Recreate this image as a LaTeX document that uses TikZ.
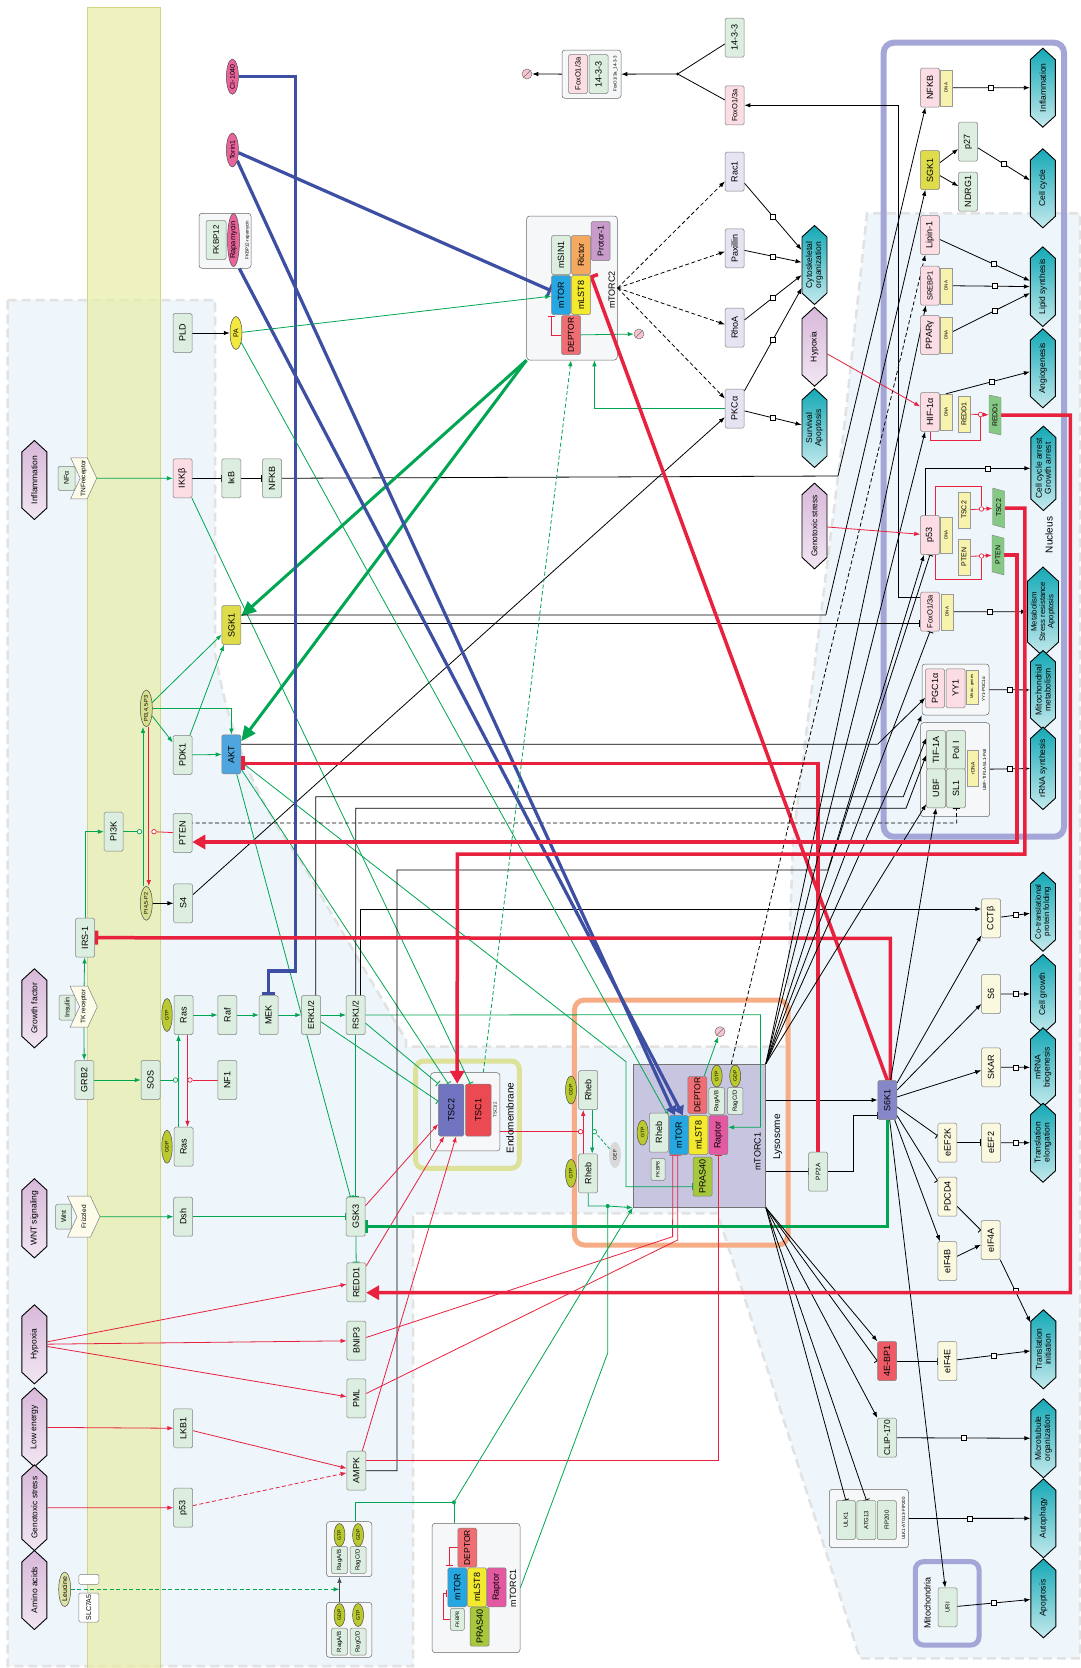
\documentclass[tikz,border=0pt]{standalone}
\usepackage{fontspec}
\setmainfont{Liberation Sans}
\usetikzlibrary{arrows.meta,shapes.geometric,shapes.symbols,calc}
\pgfdeclarelayer{bgl}\pgfdeclarelayer{frl}\pgfdeclarelayer{edl}
\pgfsetlayers{bgl,frl,edl,main}
\definecolor{bgblue}{HTML}{EEF5FB}
\definecolor{bgdash}{HTML}{E2E2E2}
\definecolor{memb}{HTML}{E8EDA6}
\definecolor{membl}{HTML}{D2D682}
\definecolor{gfill}{HTML}{DCEEDF}
\definecolor{pfill}{HTML}{FBDDE3}
\definecolor{lfill}{HTML}{E6E4F3}
\definecolor{cfill}{HTML}{FAF8DF}
\definecolor{tealc}{HTML}{14A9B6}
\definecolor{hexp}{HTML}{D8B8DA}
\definecolor{rline}{HTML}{E8213F}
\definecolor{gline}{HTML}{00A651}
\definecolor{bline}{HTML}{3D4FA3}
\definecolor{nucb}{HTML}{A3A6D6}
\definecolor{lysb}{HTML}{F6AC84}
\definecolor{endob}{HTML}{DCE29A}
\definecolor{mtc1}{HTML}{C8C5E1}
\definecolor{mtorc}{HTML}{27A7E1}
\definecolor{mlstc}{HTML}{F3E92E}
\definecolor{raptc}{HTML}{E35AA3}
\definecolor{deptc}{HTML}{EE6E73}
\definecolor{rictc}{HTML}{F5A85F}
\definecolor{protc}{HTML}{C89BCB}
\definecolor{prasc}{HTML}{A7C83C}
\definecolor{gtpc}{HTML}{B9C92E}
\definecolor{pinkell}{HTML}{E8649B}
\definecolor{tsc2c}{HTML}{7074C0}
\definecolor{tsc1c}{HTML}{EC4A52}
\definecolor{s6kc}{HTML}{8587C8}
\definecolor{ebpc}{HTML}{EE5B66}
\definecolor{aktc}{HTML}{4FA6DF}
\definecolor{sgkc}{HTML}{DEDC4A}
\definecolor{dnac}{HTML}{F8F3AC}
\definecolor{prodg}{HTML}{86C985}
\definecolor{recf}{HTML}{FDFBEA}
\definecolor{cpxf}{HTML}{F6F7F8}
\definecolor{pipc}{HTML}{D8DF8E}
\definecolor{leuc}{HTML}{DDE3A6}
\definecolor{pac}{HTML}{F3E83E}
\definecolor{degc}{HTML}{F6C5CF}
\tikzset{
  bx/.style={draw=black!50,line width=0.5pt,rounded corners=1.5pt,rotate=90,minimum width=39pt,minimum height=19pt,inner sep=0.5pt,font=\fontsize{9}{10}\selectfont},
  gb/.style={bx,fill=gfill},
  pb/.style={bx,fill=pfill},
  lb/.style={bx,fill=lfill},
  cb/.style={bx,fill=cfill},
  dnab/.style={draw=black!40,line width=0.4pt,rotate=90,fill=dnac,minimum width=36pt,minimum height=11.5pt,inner sep=0pt,font=\fontsize{4.5}{5}\selectfont},
  prod/.style={trapezium,trapezium left angle=70,trapezium right angle=110,trapezium stretches=true,draw=black!50,line width=0.4pt,fill=prodg,rotate=90,minimum width=40pt,minimum height=12pt,inner sep=0pt,font=\fontsize{7}{8}\selectfont},
  ell/.style={ellipse,draw=black!70,line width=0.5pt,rotate=90,minimum width=34pt,minimum height=12pt,inner sep=0pt,font=\fontsize{7}{8}\selectfont},
  gtpe/.style={ell,fill=gtpc,minimum width=24pt,minimum height=11pt,font=\fontsize{5}{6}\selectfont},
  hexa/.style={signal,signal to=east and west,signal pointer angle=95,draw=black,line width=0.9pt,rotate=90,minimum width=79pt,minimum height=25pt,inner sep=0.5pt,align=center,font=\fontsize{8.5}{9}\selectfont},
  hext/.style={hexa,top color=tealc,bottom color=tealc!25},
  hexq/.style={hexa,top color=hexp,bottom color=hexp!35},
  recp/.style={signal,signal to=south,signal from=north,signal pointer angle=130,draw=black!50,line width=0.5pt,fill=recf,rotate=90,minimum width=41pt,minimum height=24pt,inner sep=0pt,font=\fontsize{6.5}{7}\selectfont},
  cpx/.style={draw=black!60,line width=0.5pt,rounded corners=3pt,fill=cpxf},
  lab/.style={rotate=90,inner sep=0pt,font=\fontsize{9}{10}\selectfont},
  tinyl/.style={rotate=90,inner sep=0pt,font=\fontsize{4.5}{5}\selectfont},
  mk/.style={rectangle,draw=black,fill=white,line width=0.6pt,minimum size=5pt,inner sep=0pt},
  gcirc/.style={circle,draw=gline,fill=white,line width=0.7pt,minimum size=4.5pt,inner sep=0pt},
  rcirc/.style={circle,draw=rline,fill=white,line width=0.7pt,minimum size=4.5pt,inner sep=0pt},
  degr/.style={circle,draw=black!55,fill=degc,line width=0.5pt,minimum size=10pt,inner sep=0pt,path picture={\draw[black!55,line width=0.5pt] (path picture bounding box.south west) -- (path picture bounding box.north east);}},
  blk/.style={draw=black,line width=0.8pt},
  gl/.style={draw=gline,line width=0.8pt},
  rl/.style={draw=rline,line width=0.8pt},
  ar/.style={-{Latex[length=6pt,width=4.5pt]}},
  inh/.style={-{Bar[width=7pt,line width=0.9pt]}},
  dsh/.style={dash pattern=on 4pt off 2.5pt},
  bigr/.style={draw=rline,line width=3.5pt,-{Triangle[length=13pt,width=14pt]}},
  bigrI/.style={draw=rline,line width=3.5pt,-{Bar[width=14pt,line width=3.5pt]}},
  bigg/.style={draw=gline,line width=3pt,-{Triangle[length=15pt,width=13pt]}},
  biggI/.style={draw=gline,line width=3pt,-{Bar[width=13pt,line width=3pt]}},
  bigbA/.style={draw=bline,line width=3.2pt,-{Triangle[length=9pt,width=11pt]}},
  bigbI/.style={draw=bline,line width=3.2pt,-{Bar[width=13pt,line width=3pt]}},
}
\begin{document}
\begin{tikzpicture}[x=1pt,y=-1pt]
\useasboundingbox (0,0) rectangle (1080,1668);
% ---------------- background ----------------
\begin{pgfonlayer}{bgl}
\fill[white] (0,0) rectangle (1080,1668);
\path[fill=bgblue,draw=bgdash,line width=2.5pt,dash pattern=on 9pt off 5pt]
  (7.6,300) -- (215,300) -- (215,653) .. controls (228,730) and (255,800) .. (300,860)
  -- (406,1040) -- (406,1046.7) -- (786,1046.7) -- (793,840) -- (845,420) -- (867,213.3)
  -- (1080,213.3) -- (1080,1658.3) -- (860,1658.3) -- (717.5,1213.3) -- (413,1213.3)
  -- (413,1666) -- (7.6,1666) -- cycle;
\fill[memb,opacity=0.7] (87.5,7.3) rectangle (160.5,1668);
\draw[membl,line width=0.5pt] (87.5,7.3) -- (87.5,1668) (160.5,7.3) -- (160.5,1668) (87.5,7.3) -- (160.5,7.3);
\draw[nucb,line width=6pt,rounded corners=10pt] (883.7,42.7) rectangle (1064,836.7);
\draw[lysb,line width=5pt,rounded corners=10pt] (574.4,1000) rectangle (788,1245);
\draw[endob,line width=5pt,rounded corners=8pt] (415.7,1061) rectangle (519.3,1168.3);
\draw[nucb,line width=5pt,rounded corners=8pt] (915.3,1561.7) rectangle (979,1645);
\end{pgfonlayer}
% ---------------- complex frames ----------------
\begin{pgfonlayer}{frl}
\node[cpx,minimum width=52pt,minimum height=55pt] (rapacx) at (225,240.8) {};
\node[cpx,minimum width=90.6pt,minimum height=144pt] (mtorc2) at (572,288) {};
\node[cpx,minimum width=59pt,minimum height=48.3pt] (foxocx) at (591.5,74.2) {};
\node[cpx,minimum width=67pt,minimum height=51pt] (pgccx) at (955.5,689.5) {};
\node[cpx,minimum width=69.2pt,minimum height=94pt] (ubfcx) at (955.1,769.7) {};
\node[draw=black!55,fill=mtc1,line width=0.6pt,minimum width=132.5pt,minimum height=143.3pt] (mtorc1) at (699.3,1135.7) {};
\node[cpx,minimum width=69.3pt,minimum height=78.3pt] (tsccx) at (465.3,1111.8) {};
\node[cpx,minimum width=79.2pt,minimum height=58.4pt] (ulkcx) at (868.9,1518.5) {};
\node[cpx,minimum width=45.5pt,minimum height=55pt] (ragact) at (349.2,1549.2) {};
\node[cpx,minimum width=45.5pt,minimum height=55pt] (raginact) at (349.2,1629.8) {};
\node[cpx,minimum width=87.8pt,minimum height=129.4pt] (mtorc1s) at (476.1,1588) {};
\end{pgfonlayer}
% ---------------- nodes: left ----------------
\node[hexq] (infl) at (34.4,480) {Inflammation};
\node[gb,minimum width=24pt,minimum height=17pt,font=\fontsize{7}{8}\selectfont] (tnfa) at (66.5,478.3) {NFα};
\node[recp] (tnfr) at (83.7,478.3) {TNFreceptor};
\node[pb] (ikkb) at (182.5,478.3) {IKKβ};
\node[gb] (ikb) at (231.4,478.3) {IκB};
\node[gb] (nfkbc) at (272,478.3) {NFKB};
\node[bx,fill=sgkc] (sgk1) at (231.4,625) {SGK1};
\node[ell,fill=pipc,font=\fontsize{5.5}{6}\selectfont] (pip3) at (146.3,708.3) {PI3,4,5-P3};
\node[gb] (pdk1) at (182.5,755) {PDK1};
\node[bx,fill=aktc] (akt) at (231.4,754.3) {AKT};
\node[gb] (pi3k) at (113.6,831.7) {PI3K};
\node[gb] (pten) at (182.5,833) {PTEN};
\node[ell,fill=pipc,font=\fontsize{5.5}{6}\selectfont] (pip2) at (146.3,903.3) {PI4,5-P2};
\node[gb] (s4) at (183.2,903.3) {S4};
\node[gb] (irs1) at (85,937.7) {IRS-1};
\node[hexq] (gf) at (34.4,1008.3) {Growth factor};
\node[gb,minimum width=25pt,minimum height=16pt,font=\fontsize{7}{8}\selectfont] (insulin) at (67.1,1007.5) {Insulin};
\node[recp] (tkr) at (83.7,1006.7) {TK receptor};
\node[gb] (grb2) at (84.4,1080) {GRB2};
\node[gb] (sos) at (150.5,1080) {SOS};
\node[gb] (nf1) at (227.3,1080) {NF1};
\node[gb] (rasgtp) at (183.5,1015) {Ras};
\node[gtpe,minimum width=33pt,minimum height=10.5pt] (rasgtpE) at (167,1015) {GTP};
\node[gb] (rasgdp) at (183.5,1146.7) {Ras};
\node[gtpe,minimum width=33pt,minimum height=10.5pt] (rasgdpE) at (167,1146.7) {GDP};
\node[gb] (raf) at (227.3,1015) {Raf};
\node[gb] (mek) at (268.6,1015) {MEK};
\node[gb,font=\fontsize{8.5}{9}\selectfont] (erk) at (311,1015) {ERK1/2};
\node[gb,font=\fontsize{8.5}{9}\selectfont] (rsk) at (355.7,1015) {RSK1/2};
\node[hexq] (wnts) at (34.4,1218.3) {WNT signaling};
\node[gb,minimum width=25pt,minimum height=16pt,font=\fontsize{7}{8}\selectfont] (wnt) at (63.7,1216.7) {Wnt};
\node[recp] (frizzled) at (83.7,1216.7) {Frizzled};
\node[gb] (dsh) at (183.2,1216.7) {Dsh};
\node[gb] (gsk3) at (355.7,1216.7) {GSK3};
\node[gb] (redd1c) at (356.4,1282.3) {REDD1};
\node[gb] (bnip3) at (356.4,1340.7) {BNIP3};
\node[gb] (pml) at (356.4,1398.3) {PML};
\node[gb] (ampk) at (356.4,1470.7) {AMPK};
\node[gb] (lkb1) at (183.2,1428.3) {LKB1};
\node[gb] (p53c) at (183.2,1507.7) {p53};
\node[hexq] (hypox) at (34.4,1344.3) {Hypoxia};
\node[hexq] (lowen) at (34.4,1427.3) {Low energy};
\node[hexq,font=\fontsize{8.3}{9}\selectfont] (genot) at (34.4,1507.7) {Genotoxic stress};
\node[hexq] (amino) at (34.4,1590) {Amino acids};
\node[ell,fill=leuc] (leucine) at (64.7,1589.3) {Leucine};
\node[bx,fill=white,minimum width=10pt,minimum height=20pt] (slctop) at (88.8,1579.3) {};
\node[bx,fill=white,minimum width=29pt,minimum height=20pt,font=\fontsize{7}{8}\selectfont] (slc) at (88.8,1607.5) {SLC7A5};
% rags and small mTORC1
\node[gb,minimum width=27pt,minimum height=16pt,font=\fontsize{6}{7}\selectfont] (ragab1) at (339.5,1560) {RagA/B};
\node[gtpe,minimum width=23pt] at (339.5,1535) {GTP};
\node[gb,minimum width=27pt,minimum height=16pt,font=\fontsize{6}{7}\selectfont] (ragcd1) at (358.1,1560) {RagC/D};
\node[gtpe,minimum width=23pt] at (358.1,1535) {GDP};
\node[gb,minimum width=27pt,minimum height=16pt,font=\fontsize{6}{7}\selectfont] (ragab2) at (339.5,1641.7) {RagA/B};
\node[gtpe,minimum width=23pt] at (339.5,1615) {GDP};
\node[gb,minimum width=27pt,minimum height=16pt,font=\fontsize{6}{7}\selectfont] (ragcd2) at (358.1,1641.7) {RagC/D};
\node[gtpe,minimum width=23pt] at (358.1,1615) {GTP};
\coordinate (ragmid) at (339.5,1589.3);
\node[bx,fill=deptc,font=\fontsize{8.5}{9}\selectfont] (deptorS) at (467.3,1547.7) {DEPTOR};
\node[bx,fill=mtorc] (mtorS) at (457.3,1587.3) {mTOR};
\node[bx,fill=mlstc] (mlst8S) at (477,1587.3) {mLST8};
\node[bx,fill=raptc] (raptorS) at (496.6,1587.3) {Raptor};
\node[gb,minimum width=22pt,minimum height=14pt,font=\fontsize{5}{6}\selectfont] (fkbpS) at (457.3,1619.3) {FKBP8};
\node[bx,fill=prasc] (pras40S) at (479.7,1626.7) {PRAS40};
\node[lab] at (513,1588.3) {mTORC1};
% ---------------- nodes: top ----------------
\node[ell,fill=pinkell] (ci1040) at (232.4,76.7) {CI-1040};
\node[ell,fill=pinkell] (torin1) at (232.4,150) {Torin1};
\node[gb,minimum height=20pt,font=\fontsize{8}{9}\selectfont] (fkbp12) at (216,240) {FKBP12};
\node[ell,fill=pinkell,minimum width=50pt,font=\fontsize{7.5}{8}\selectfont] (rapa) at (233.5,240) {Rapamycin};
\node[tinyl] at (247.5,240) {FKBP12-rapamycin};
\node[gb] (pld) at (182.5,333) {PLD};
\node[ell,fill=pac,minimum width=33pt] (pa) at (236,333) {PA};
% mTORC2
\node[gb] (msin1) at (561,255) {mSIN1};
\node[bx,fill=rictc] (rictor) at (581,255) {Rictor};
\node[bx,fill=protc,font=\fontsize{8.5}{9}\selectfont] (protor) at (600.7,241) {Protor-1};
\node[bx,fill=mtorc] (mtorB) at (561,295) {mTOR};
\node[bx,fill=mlstc] (mlst8B) at (581,295) {mLST8};
\node[bx,fill=deptc,font=\fontsize{8.5}{9}\selectfont] (deptorB) at (571,335) {DEPTOR};
\node[lab] at (611.7,290) {mTORC2};
\node[degr] (degB) at (639,334) {};
% FoxO / 14-3-3
\node[pb,font=\fontsize{7.5}{8}\selectfont] (foxoI) at (578,74) {FoxO1/3a};
\node[gb] (b1433I) at (598.5,74) {14-3-3};
\node[tinyl] at (615.5,74) {FoxO1/3a\_14-3-3};
\node[degr] (deg1) at (527,74) {};
\node[gb] (b1433) at (734.6,37.7) {14-3-3};
\node[pb,font=\fontsize{7.5}{8}\selectfont] (foxoc) at (734.6,105.3) {FoxO1/3a};
\node[lb] (rac1) at (734.6,171.7) {Rac1};
\node[lb] (paxillin) at (734.6,248.3) {Paxillin};
\node[lb] (rhoa) at (734.6,327.7) {RhoA};
\node[lb] (pkca) at (734.6,408.5) {PKCα};
\node[hext] (cyto) at (814.5,265) {Cytoskeletal\\organization};
\node[hexq] (hypoxR) at (814.5,346.7) {Hypoxia};
\node[hext] (surv) at (814.5,428) {Survival\\Apoptosis};
\node[hexq,font=\fontsize{8.3}{9}\selectfont] (genoR) at (814.5,526) {Genotoxic stress};
% ---------------- nucleus ----------------
\node[pb] (nfkbn) at (930,87.7) {NFKB};
\node[dnab] (nfkbdna) at (946,87.7) {DNA};
\node[hext] (infl2) at (1042.8,87.7) {Inflammation};
\node[bx,fill=sgkc] (sgk1n) at (930,170) {SGK1};
\node[gb] (p27) at (968,141.7) {p27};
\node[gb] (ndrg1) at (968,191.7) {NDRG1};
\node[hext] (cellcycle) at (1042.8,188.3) {Cell cycle};
\node[pb] (lipin1) at (930,235) {Lipin-1};
\node[pb,font=\fontsize{7.5}{8}\selectfont] (srebp1) at (930,285.7) {SREBP1};
\node[dnab] (srebpdna) at (946,285.7) {DNA};
\node[pb] (ppar) at (930,335) {PPARγ};
\node[dnab] (ppardna) at (946,335) {DNA};
\node[hext] (lipid) at (1042.8,286.7) {Lipid synthesis};
\node[hext] (angio) at (1042.8,368.3) {Angiogenesis};
\node[pb] (hif) at (930,412) {HIF-1α};
\node[dnab] (hifdna) at (946,412) {DNA};
\node[dnab,font=\fontsize{7}{8}\selectfont] (redd1Y) at (964,414) {REDD1};
\node[prod] (redd1G) at (995,415) {REDD1};
\node[hext] (ccarrest) at (1043.4,468.3) {Cell cycle arrest\\Growth arrest};
\node[pb] (p53n) at (930,535) {p53};
\node[dnab] (p53dna) at (946,535) {DNA};
\node[dnab,font=\fontsize{7}{8}\selectfont] (tsc2Y) at (964,510) {TSC2};
\node[prod] (tsc2G) at (998.7,508) {TSC2};
\node[dnab,font=\fontsize{7}{8}\selectfont] (ptenY) at (964,556.7) {PTEN};
\node[prod] (ptenG) at (998,555) {PTEN};
\node[pb,font=\fontsize{7.5}{8}\selectfont] (foxon) at (930,611.7) {FoxO1/3a};
\node[dnab] (foxodna) at (947,611.7) {DNA};
\node[hext,minimum height=31pt,font=\fontsize{7.8}{8.3}\selectfont] (metab) at (1043,611.7) {Metabolism\\Stress resistance\\Apoptosis};
\node[hext] (mito) at (1043,690) {Mitochondrial\\metabolism};
\node[pb] (pgc1a) at (935,688.3) {PGC1α};
\node[pb] (yy1) at (955.6,688.3) {YY1};
\node[dnab,minimum width=34pt,font=\fontsize{4}{4.5}\selectfont] (mitg) at (972,686.7) {Mit oc. genes};
\node[tinyl] at (983.5,689.5) {YY1-PGC1α};
\node[gb] (tif1a) at (936,750) {TIF-1A};
\node[gb] (pol1) at (956,750) {Pol I};
\node[gb] (ubf) at (936,788.3) {UBF};
\node[gb] (sl1) at (956,788.3) {SL1};
\node[dnab,font=\fontsize{5}{6}\selectfont] (rdna) at (972.9,768.3) {rDNA};
\node[tinyl] at (984.5,769.7) {UBF-TIF1A-SL1-PolI};
\node[hext] (rrna) at (1043,768.3) {rRNA synthesis};
\node[lab,font=\fontsize{10}{11}\selectfont] at (1049,535) {Nucleus};
% ---------------- mTORC1 / lysosome ----------------
\node[bx,fill=mtorc] (mtorA) at (678.8,1135) {mTOR};
\node[bx,fill=mlstc] (mlst8A) at (698.4,1135) {mLST8};
\node[bx,fill=raptc] (raptorA) at (718.4,1135) {Raptor};
\node[bx,fill=deptc,minimum width=37pt,font=\fontsize{8.5}{9}\selectfont] (deptorA) at (697.4,1095) {DEPTOR};
\node[gb] (rhebA) at (658.8,1132.7) {Rheb};
\node[gtpe,minimum width=25pt] (gtpA) at (642.6,1132.7) {GTP};
\node[gb,minimum width=22pt,minimum height=14pt,font=\fontsize{5}{6}\selectfont] (fkbp8A) at (658,1169.3) {FKBP8};
\node[bx,fill=prasc] (pras40A) at (702.5,1176.7) {PRAS40};
\node[gb,minimum width=27pt,minimum height=15.5pt,font=\fontsize{6}{7}\selectfont] (ragabA) at (716.7,1101) {RagA/B};
\node[gtpe,minimum width=22pt] (gtpR) at (716.7,1076) {GTP};
\node[gb,minimum width=27pt,minimum height=15.5pt,font=\fontsize{6}{7}\selectfont] (ragcdA) at (735.2,1101) {RagC/D};
\node[gtpe,minimum width=22pt] (gdpR) at (735.2,1076) {GDP};
\node[degr] (degA) at (720,1031.7) {};
\node[lab] at (757.6,1151.7) {mTORC1};
\node[lab,font=\fontsize{10}{11}\selectfont] at (777.6,1136.7) {Lysosome};
\node[gb] (rhebgdp) at (588.2,1090) {Rheb};
\node[gtpe,minimum width=28pt] (gdpE) at (571,1090) {GDP};
\node[gb] (rhebgtp) at (588.2,1173.3) {Rheb};
\node[gtpe,minimum width=28pt] (gtpE) at (571,1173.3) {GTP};
\node[ell,draw=none,fill=black!15,minimum width=26pt,minimum height=12pt,font=\fontsize{5}{6}\selectfont] (gef) at (615,1155) {GEF};
% TSC
\node[bx,fill=tsc2c,minimum width=52pt,minimum height=25.5pt] (tsc2) at (451.2,1110) {TSC2};
\node[bx,fill=tsc1c,minimum width=52pt,minimum height=25.5pt] (tsc1) at (478.3,1110) {TSC1};
\node[tinyl] at (495,1110) {TSC1/2};
\node[lab,font=\fontsize{10}{11}\selectfont] at (510,1118) {Endomembrane};
% ---------------- right cytoplasm ----------------
\node[bx,fill=s6kc] (s6k1) at (887.3,1100) {S6K1};
\node[gb,font=\fontsize{6.5}{7}\selectfont] (pp2a) at (818.2,1171.7) {PP2A};
\node[cb] (cctb) at (991,918.3) {CCTβ};
\node[cb] (s6) at (991,994) {S6};
\node[cb] (skar) at (991,1067.3) {SKAR};
\node[cb] (eef2k) at (947.4,1142.7) {eEF2K};
\node[cb] (eef2) at (991,1142.7) {eEF2};
\node[cb] (pdcd4) at (947.4,1196.7) {PDCD4};
\node[cb] (eif4a) at (990.7,1240) {eIF4A};
\node[cb] (eif4b) at (947.3,1261) {eIF4B};
\node[bx,fill=ebpc] (ebp1) at (887.1,1361) {4E-BP1};
\node[cb] (eif4e) at (947.4,1361) {eIF4E};
\node[gb,font=\fontsize{8.5}{9}\selectfont] (clip) at (887.1,1437.7) {CLIP-170};
\node[gb,font=\fontsize{6}{7}\selectfont] (ulk1) at (845.8,1520) {ULK1};
\node[gb,font=\fontsize{6}{7}\selectfont] (atg13) at (866.4,1520) {ATG13};
\node[gb,font=\fontsize{6}{7}\selectfont] (fip200) at (886.8,1520) {FIP200};
\node[tinyl] at (903.5,1518.5) {ULK1-ATG13-FIP200};
\node[gb,font=\fontsize{6}{7}\selectfont] (uri) at (947.5,1607.3) {URI};
\node[lab] at (927.4,1603) {Mitochondria};
\node[hext,font=\fontsize{7.8}{8.3}\selectfont] (cotrans) at (1043,911.7) {Co-translational\\protein folding};
\node[hext] (cellgrowth) at (1043,994) {Cell growth};
\node[hext] (mrna) at (1043,1067.3) {mRNA\\biogenesis};
\node[hext] (transel) at (1043,1142.7) {Translation\\elongation};
\node[hext] (transin) at (1043.4,1349.3) {Translation\\initiation};
\node[hext] (micro) at (1043.4,1438.3) {Microtubule\\organization};
\node[hext] (autoph) at (1043.4,1518.3) {Autophagy};
\node[hext] (apopt) at (1043.4,1598.3) {Apoptosis};
% catalysis circles
\node[gcirc] (c1) at (139.5,831.7) {};
\node[rcirc] (c2) at (154,831.7) {};
\node[gcirc] (c3) at (175.5,1080) {};
\node[rcirc] (c4) at (190,1080) {};
\node[rcirc] (c5) at (580.5,1131.7) {};
\node[gcirc] (c6) at (594.5,1131.7) {};
\node[rcirc] (c7) at (980.5,414.5) {};
\node[rcirc] (c8) at (981.5,509) {};
\node[rcirc] (c9) at (981.5,556) {};
% ---------------- edges ----------------
\begin{pgfonlayer}{edl}
% inflammation
\draw[gl,ar] (tnfr) -- (ikkb);
\draw[blk,inh] (ikkb) -- (ikb);
\draw[blk,inh] (ikb) -- (nfkbc);
\draw[blk,ar] (nfkbc) -- (838,476) -- (nfkbn);
\draw[gl,inh] (ikkb) -- ($(tsc1.east)+(-8,0)$);
% PI3K / AKT
\draw[gl,ar] (pip3) -- (sgk1);
\draw[gl,ar] (pip3) -- (pdk1);
\draw[gl,ar] (pip3) -| (akt);
\draw[gl,ar] (pdk1) -- (sgk1);
\draw[gl,ar] (pdk1) -- (akt);
\draw[bigg] (mtorc2.south west) -- (sgk1);
\draw[bigg] (mtorc2.south west) -- (akt);
\draw[gl] (pi3k) -- (c1);
\draw[gl,ar] ($(pip2.east)+(-3.3,0)$) -- ($(pip3.west)+(-3.3,0)$);
\draw[rl,ar] ($(pip3.west)+(2.5,0)$) -- ($(pip2.east)+(2.5,0)$);
\draw[rl] (pten) -- (c2);
\draw[blk,ar] (pip2) -- (s4);
\draw[blk,ar] (s4) -- (pkca);
\draw[gl,ar] (irs1) |- (pi3k);
\draw[gl,ar] (tkr) -- (irs1);
\draw[gl,ar] (tkr) -- (grb2);
\draw[gl,ar] (grb2) -- (sos);
\draw[gl] (sos) -- (c3);
\draw[gl,ar] ($(rasgdp.east)+(-5,0)$) -- ($(rasgtp.west)+(-5,0)$);
\draw[rl,ar] ($(rasgtp.west)+(4,0)$) -- ($(rasgdp.east)+(4,0)$);
\draw[rl] (nf1) -- (c4);
\draw[gl,ar] (rasgtp) -- (raf);
\draw[gl,ar] (raf) -- (mek);
\draw[gl,ar] (mek) -- (erk);
\draw[gl,ar] (erk) -- (rsk);
\draw[gl,inh] (erk) -- (tsc2);
\draw[gl,inh] (rsk) -- (tsc2.north east);
\draw[gl,inh] (akt) -- ($(tsc2.east)+(-3,0)$);
\draw[gl,inh] (akt) -- (gsk3);
\draw[gl,inh] (rsk) -- (gsk3);
\draw[gl,ar] (frizzled) -- (dsh);
\draw[gl,inh] (dsh) -- (gsk3);
\draw[gl,inh] (gsk3) -- (redd1c);
\draw[gl,inh] (akt) -- (626,1061.7) -- (626,1186.7) -- (pras40A.north |- 0,1186.7);
\draw[gl,ar] (rsk) -- (760.4,1014.7) -- (760.4,1127.3) -- (raptorA.south |- 0,1127.3);
% long black lines
\draw[blk,ar] ($(sgk1)+(0,-10)$) -- (825.8,615) -- (sgk1n);
\draw[blk,inh] ($(sgk1)+(0,-2)$) -- (foxon.north |- 0,623);
\draw[blk,ar] ($(akt)+(0,-10)$) -- (877.5,744.3) -- (pgc1a);
\draw[blk,ar] ($(erk)+(4.8,0)$) -- (315.8,796.7) -- (903.3,796.7) -- ($(tif1a.north)+(0,-12)$);
\draw[blk,ar] (rsk) -- (355.7,808.3) -- (906,808.3) -- ($(tif1a.north)+(0,5)$);
\draw[blk,ar] ($(rsk)+(4.8,0)$) -- (360.5,909) -- (cctb.north |- 0,909);
\draw[blk,ar] (ampk) -- (397,1470.7) -- (397,870) -- (828,870) -- (p53n);
\draw[blk,dsh,inh] ($(pten)+(0,-10)$) -- (956.7,823) -- (sl1);
% inhibitors
\draw[bigbI] (torin1) -- (mtorB);
\draw[bigbA] (torin1) -- ($(mtorA.east)+(-4,0)$);
\draw[bigbA] (rapacx) -- ($(mtorA.east)+(4,0)$);
\draw[bigbI] (ci1040) -- (295.5,76.7) -- (295.5,971) -- (268.6,971) -- (mek);
\draw[blk,ar] (pld) -- (pa);
\draw[gl,ar] (pa) -- (mtorB);
\draw[gl,ar] (pa) -- (mtorA);
% mTORC2
\draw[blk,dsh,ar] (mtorc2.east) -- (rac1);
\draw[blk,dsh,ar] (mtorc2.east) -- (paxillin);
\draw[blk,dsh,ar] (mtorc2.east) -- (rhoa);
\draw[blk,dsh,ar] (mtorc2.east) -- (pkca);
\draw[blk,ar] (rac1) -- (cyto) node[mk,pos=.5]{};
\draw[blk,ar] (paxillin) -- (cyto) node[mk,pos=.5]{};
\draw[blk,ar] (rhoa) -- (cyto) node[mk,pos=.5]{};
\draw[blk,ar] (pkca) -- (cyto) node[mk,pos=.5]{};
\draw[blk,ar] (pkca) -- (surv) node[mk,pos=.5]{};
\draw[gl,ar] (pkca) -| (mtorc2.south -| 594.4,0);
\draw[gl,dsh,ar] ($(tsccx.north)+(18,0)$) -- (mtorc2.south -| 571,0);
\draw[gl,ar] (deptorB) -- (degB);
\draw[rl,inh] (deptorB.north) -- ++(-10,0) -- ++(0,-19);
% FoxO / 14-3-3
\coordinate (j1433) at (677.7,74);
\draw[blk] (b1433) -- (j1433);
\draw[blk] (foxoc) -- (j1433);
\draw[blk,ar] (j1433) -- (foxocx);
\draw[blk,ar] (foxocx) -- (deg1);
\fill (j1433) circle (1.6);
\draw[blk,ar] (foxon.north |- 0,597) -- (898.8,597) -- (898.8,105.3) -- (foxoc);
% red thin
\draw[rl,ar] (gsk3) -- ($(tsc2.north)+(0,14)$);
\draw[rl,ar] (redd1c) -- ($(tsc2.west)+(-7,0)$);
\draw[rl,ar] (ampk) -- ($(tsc2.west)+(5,0)$);
\draw[rl,inh] ($(ampk)+(0,-10)$) -- (718.4,1460.7) -- (raptorA.west);
\draw[rl,inh] (bnip3) -- (672.6,1236.7) -- ($(mtorA.west)+(-6,0)$);
\draw[rl,inh] (pml) -- (677.7,1240) -- ($(mtorA.west)+(-1,0)$);
\draw[rl,ar] (hypox) -- (redd1c);
\draw[rl,ar] (hypox) -- (bnip3);
\draw[rl,ar] (hypox) -- (pml);
\draw[rl,ar] (lowen) -- (lkb1);
\draw[rl,ar] (lkb1) -- (ampk);
\draw[rl,ar] (genot) -- (p53c);
\draw[rl,dsh,ar] (p53c) -- (ampk);
\draw[rl,inh] (deptorS.north) -- ++(-8,0) -- ++(0,18);
\draw[rl,inh] (fkbpS.north) -- ++(-7,0) -- ++(0,-26) -- ++(4,0);
% amino acids / Rag
\draw[gl,dsh,ar] (leucine) -- (ragmid);
\draw[black!70,line width=0.6pt,ar] (raginact.north -| ragmid) -- (ragact.south -| ragmid);
\coordinate (jr) at (453.9,1502.3);
\coordinate (jh) at (607.7,1206);
\draw[gl] ($(ragact.north)+(6.5,0)$) |- (jr);
\draw[gl,ar] (jr) -- (mtorc1.south west);
\draw[gl] (jr) -- (mtorc1s.north -| jr);
\fill[gline] (jr) circle (2);
\draw[gl] (mtorc1s.east) -- (607.7,1353) -- (jh);
\draw[gl,ar] (rhebgtp) |- (jh) -- (mtorc1.south west);
\fill[gline] (jh) circle (2);
\draw[gl,ar] ($(rhebgdp.west)+(4,0)$) -- ($(rhebgtp.east)+(4,0)$);
\draw[rl,ar] ($(rhebgtp.east)+(-5,0)$) -- ($(rhebgdp.west)+(-5,0)$);
\draw[rl] (tsccx.east |- 0,1131.7) -- (c5);
\draw[gl,densely dashed] (gef) -- (c6);
% mTORC1 outputs
\draw[gl,ar] (deptorA) -- (degA);
\draw[blk,ar] (mtorc1.east |- 0,1100) -- (s6k1);
\draw[blk,inh] (mtorc1.east |- 0,1171.7) -- (pp2a);
\draw[blk,inh] (pp2a) -- (853.4,1171.7) -- (853.4,1115) -- (s6k1.north |- 0,1115);
\draw[bigrI] (pp2a.east) -- (pp2a.east |- 0,763.3) -- (akt.south |- 0,763.3);
\draw[bigrI] ($(s6k1.east)+(3,0)$) -- (890.3,938.3) -- (irs1);
\draw[bigrI] (s6k1.east) -- (mlst8B.south east);
\draw[biggI] (s6k1.west) -- (s6k1.west |- 0,1226.7) -- (gsk3.south |- 0,1226.7);
\draw[blk,dsh,ar] ($(mtorc1.north)+(32,0)$) -- (lipin1);
\draw[blk,ar] (mtorc1.north east) -- (srebp1);
\draw[blk,ar] (mtorc1.north east) -- (hif);
\draw[blk,inh] (mtorc1.north east) -- (p53n.west);
\draw[blk,inh] (mtorc1.north east) -- (foxon.west);
\draw[blk,ar] (mtorc1.north east) -- (pgccx.south west);
\draw[blk,ar] (mtorc1.north east) -- (ubf);
\draw[blk,ar] (s6k1) -- (ubf.west);
\draw[blk,ar] (s6k1) -- (cctb);
\draw[blk,ar] (s6k1) -- (s6);
\draw[blk,ar] (s6k1) -- (skar);
\draw[blk,inh] (s6k1) -- (eef2k);
\draw[blk,inh] (s6k1) -- (pdcd4);
\draw[blk,ar] (s6k1) -- (eif4b);
\draw[blk,ar] (s6k1) -- (uri);
\draw[blk,inh] (eef2k) -- (eef2);
\draw[blk,ar] (eef2) -- (transel) node[mk,pos=.5]{};
\draw[blk,inh] (pdcd4) -- (eif4a);
\draw[blk,ar] (eif4b) -- (eif4a);
\draw[blk,ar] (eif4a) -- (transin) node[mk,pos=.5]{};
\draw[blk,ar] (cctb) -- (cotrans) node[mk,pos=.5]{};
\draw[blk,ar] (s6) -- (cellgrowth) node[mk,pos=.5]{};
\draw[blk,ar] (skar) -- (mrna) node[mk,pos=.5]{};
\draw[blk,ar] (mtorc1.south east) -- (ebp1.north east);
\draw[blk,inh] (mtorc1.south east) -- (ebp1.north);
\draw[blk,ar] (mtorc1.south east) -- (clip.north east);
\draw[blk,inh] (mtorc1.south east) -- (ulk1.east);
\draw[blk,inh] (mtorc1.south east) -- (atg13.east);
\draw[blk,inh] (ebp1) -- (eif4e);
\draw[blk,ar] (eif4e) -- (transin) node[mk,pos=.5]{};
\draw[blk,ar] (clip) -- (micro) node[mk,pos=.5]{};
\draw[blk,ar] (ulkcx) -- (autoph) node[mk,pos=.5]{};
\draw[blk,ar] (uri) -- (apopt) node[mk,pos=.5]{};
% nucleus
\draw[blk,ar] (nfkbdna) -- (infl2) node[mk,pos=.5]{};
\draw[blk,ar] (sgk1n) -- (p27);
\draw[blk,ar] (sgk1n) -- (ndrg1);
\draw[blk,ar] (p27) -- (cellcycle) node[mk,pos=.5]{};
\draw[blk,ar] (lipin1) -- (lipid) node[mk,pos=.6]{};
\draw[blk,ar] (srebpdna) -- (lipid) node[mk,pos=.55]{};
\draw[blk,ar] (ppardna) -- (lipid) node[mk,pos=.55]{};
\draw[blk,ar] (hifdna.east) -- (angio) node[mk,pos=.55]{};
\draw[blk,ar] ($(p53n)+(-5,0)$) |- (ccarrest) node[mk,pos=.8]{};
\draw[blk,ar] (foxodna) -- (metab) node[mk,pos=.5]{};
\draw[blk,ar] (pgccx) -- (mito) node[mk,pos=.5]{};
\draw[blk,ar] (ubfcx) -- (rrna) node[mk,pos=.5]{};
\draw[rl,ar] (hypoxR) -- (hif);
\draw[rl,ar] (genoR) -- (p53n);
\draw[rl,ar] (redd1Y) -- (redd1G);
\draw[rl] (hif) |- (980.5,440) -- (c7);
\draw[rl,ar] (tsc2Y) -- (tsc2G);
\draw[rl] ($(p53n)+(5,0)$) |- (981.5,486) -- (c8);
\draw[rl,ar] (ptenY) -- (ptenG);
\draw[rl] ($(p53n)+(5,0)$) |- (981.5,579.3) -- (c9);
% thick red feedbacks
\draw[bigr] (ptenG) -- (1017,555) -- (1017,842) -- (pten.south |- 0,842);
\draw[bigr] (tsc2G) -- (1024.8,508) -- (1024.8,854) -- (457.3,854) -- ($(tsc2.east)+(6,0)$);
\draw[bigr] (redd1G) -- (1070.3,415) -- (1070.3,1292.7) -- (redd1c.south |- 0,1292.7);
\end{pgfonlayer}
\end{tikzpicture}
\end{document}
